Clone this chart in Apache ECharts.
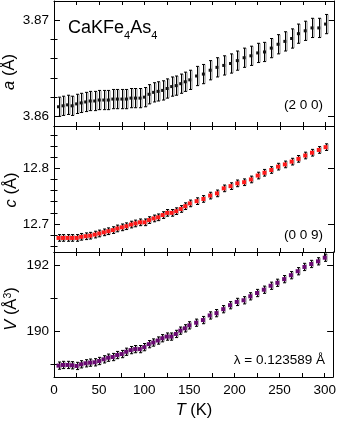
<!DOCTYPE html>
<html>
<head>
<meta charset="utf-8">
<script src="https://cdn.jsdelivr.net/npm/echarts@6/dist/echarts.min.js"></script>
<style>
  html, body { margin: 0; padding: 0; background: #fff; }
  #main { width: 339px; height: 421px; }
</style>
</head>
<body>
<div id="main"></div>
<script>
// temperature points (K): 5 K steps up to 150 K, then 7.5 K steps
const temps = [5, 10, 15, 20, 25, 30, 35, 40, 45, 50, 55, 60, 65, 70, 75, 80, 85, 90, 95, 100,
  105, 110, 115, 120, 125, 130, 135, 140, 145, 150, 157.5, 165, 172.5, 180, 187.5, 195, 202.5,
  210, 217.5, 225, 232.5, 240, 247.5, 255, 262.5, 270, 277.5, 285, 292.5, 300];

// lattice parameter a (Å), from (2 0 0)
const aValues = [3.8610, 3.8611, 3.8612, 3.8611, 3.8613, 3.8614, 3.8615, 3.8616, 3.8616, 3.8617,
  3.8617, 3.8617, 3.8618, 3.8618, 3.8618, 3.8618, 3.8619, 3.8619, 3.8619, 3.8620,
  3.8623, 3.8625, 3.8626, 3.8627, 3.8629, 3.8631, 3.8632, 3.8634, 3.8636, 3.8638,
  3.8642, 3.8644, 3.8648, 3.8651, 3.8653, 3.8655, 3.8658, 3.8661, 3.8663, 3.8666,
  3.8667, 3.8671, 3.8675, 3.8678, 3.8681, 3.8686, 3.8689, 3.8692, 3.8692, 3.8696];

// lattice parameter c (Å), from (0 0 9)
const cValues = [12.675, 12.675, 12.675, 12.675, 12.675, 12.677, 12.678, 12.679, 12.681, 12.683,
  12.685, 12.687, 12.689, 12.692, 12.694, 12.696, 12.699, 12.701, 12.703, 12.703,
  12.707, 12.710, 12.712, 12.716, 12.720, 12.720, 12.723, 12.727, 12.732, 12.737,
  12.741, 12.745, 12.751, 12.755, 12.764, 12.768, 12.773, 12.775, 12.780, 12.787,
  12.792, 12.797, 12.803, 12.807, 12.812, 12.817, 12.823, 12.828, 12.833, 12.838];

// cell volume V (Å^3)
const vValues = [188.96, 188.98, 188.98, 188.97, 188.95, 189.00, 189.03, 189.05, 189.06, 189.10,
  189.15, 189.20, 189.22, 189.28, 189.31, 189.38, 189.43, 189.46, 189.46, 189.52,
  189.61, 189.66, 189.72, 189.79, 189.84, 189.84, 189.92, 190.02, 190.09, 190.18,
  190.26, 190.34, 190.48, 190.55, 190.67, 190.79, 190.89, 190.94, 191.06, 191.16,
  191.26, 191.38, 191.47, 191.58, 191.70, 191.82, 191.95, 192.04, 192.12, 192.23];

// error bar half-widths
const aErr = 0.001;
const cErr = 0.006;
const vErr = 0.11;

// ticks
const tTicks = [0, 25, 50, 75, 100, 125, 150, 175, 200, 225, 250, 275, 300];
const tLabels = [0, 50, 100, 150, 200, 250, 300];
const aMajor = [3.86, 3.87];
const aMinor = [3.862, 3.864, 3.866, 3.868];
const cMajor = [12.7, 12.8];
const cMinor = [12.66, 12.68, 12.72, 12.74, 12.76, 12.78, 12.82, 12.84, 12.86];
const vMajor = [190, 192];
const vMinor = [189, 191];

const FONT = '"Liberation Sans", Arial, Helvetica, sans-serif';
const panels = [
  { top: 1, height: 125, min: 3.859, max: 3.872, major: aMajor, minor: aMinor, digits: 2,
    vals: aValues, err: aErr, color: '#111', size: 3 },
  { top: 126, height: 126, min: 12.6497, max: 12.876, major: cMajor, minor: cMinor, digits: 1,
    vals: cValues, err: cErr, color: '#ff1a1a', size: 4 },
  { top: 252, height: 125, min: 188.615, max: 192.403, major: vMajor, minor: vMinor, digits: 0,
    vals: vValues, err: vErr, color: '#6a0a72', size: 4 }
];

const lineStyle = { color: '#000', width: 1 };

function errorBar(params, api) {
  const x = api.value(0), y = api.value(1), e = api.value(2);
  const lo = api.coord([x, y - e]);
  const hi = api.coord([x, y + e]);
  const px = Math.round(lo[0]) + 0.5;
  return {
    type: 'group',
    children: [
      { type: 'line', shape: { x1: px + 1.5, y1: hi[1], x2: px + 1.5, y2: lo[1] },
        style: { stroke: '#b4b4b4', lineWidth: 1.6 } },
      { type: 'line', shape: { x1: px, y1: hi[1], x2: px, y2: lo[1] },
        style: { stroke: '#000', lineWidth: 1 } },
      { type: 'line', shape: { x1: px - 1.5, y1: hi[1], x2: px + 1.5, y2: hi[1] },
        style: { stroke: '#000', lineWidth: 1 } },
      { type: 'line', shape: { x1: px - 1.5, y1: lo[1], x2: px + 1.5, y2: lo[1] },
        style: { stroke: '#000', lineWidth: 1 } }
    ]
  };
}

const grid = [], xAxis = [], yAxis = [], series = [];
panels.forEach(function (p, i) {
  grid.push({ left: 54, right: 5, top: p.top, height: p.height });
  ['bottom', 'top'].forEach(function (pos) {
    xAxis.push({
      type: 'value', gridIndex: i, position: pos, min: 0, max: 309.3,
      axisLine: { show: true, onZero: false, lineStyle: lineStyle },
      axisTick: { show: true, inside: true, length: 4, customValues: tTicks, lineStyle: lineStyle },
      axisLabel: { show: pos === 'bottom' && i === 2, customValues: tLabels, margin: 6,
        color: '#000', fontSize: 13.5, fontFamily: FONT },
      splitLine: { show: false }
    });
  });
  ['left', 'right'].forEach(function (pos) {
    yAxis.push({
      type: 'value', gridIndex: i, position: pos, min: p.min, max: p.max,
      axisLine: { show: true, onZero: false, lineStyle: lineStyle },
      axisTick: { show: true, inside: true, length: 6, customValues: p.major, lineStyle: lineStyle },
      axisLabel: { show: pos === 'left', customValues: p.major, margin: 5,
        color: '#000', fontSize: 13.5, fontFamily: FONT,
        formatter: function (v) { return v.toFixed(p.digits); } },
      splitLine: { show: false }
    });
    yAxis.push({
      type: 'value', gridIndex: i, position: pos, min: p.min, max: p.max,
      axisLine: { show: false },
      axisTick: { show: true, inside: true, length: 3.5, customValues: p.minor, lineStyle: lineStyle },
      axisLabel: { show: false },
      splitLine: { show: false }
    });
  });
  const pts = temps.map(function (t, k) { return [t, p.vals[k], p.err]; });
  series.push({
    type: 'custom', xAxisIndex: 2 * i, yAxisIndex: 4 * i,
    renderItem: errorBar, data: pts, silent: true, z: 2
  });
  series.push({
    type: 'scatter', xAxisIndex: 2 * i, yAxisIndex: 4 * i,
    symbol: 'rect', symbolSize: p.size, data: pts.map(function (d) { return [d[0], d[1]]; }),
    itemStyle: { color: p.color, opacity: 1 }, silent: true, z: 3
  });
});

const textBase = { fontFamily: FONT, fill: '#000' };
const graphic = [
  { type: 'text', x: 68, y: 18, style: Object.assign({}, textBase, {
      text: 'CaKFe{s|4}As{s|4}', fontSize: 18, lineHeight: 20,
      rich: { s: { fontSize: 11, fontFamily: FONT, verticalAlign: 'bottom', lineHeight: 11, padding: [0, 0, -3, 0] } } }) },
  { type: 'text', x: 323, y: 105, style: Object.assign({}, textBase, {
      text: '(2 0 0)', fontSize: 13.5, align: 'right', verticalAlign: 'middle' }) },
  { type: 'text', x: 323, y: 235, style: Object.assign({}, textBase, {
      text: '(0 0 9)', fontSize: 13.5, align: 'right', verticalAlign: 'middle' }) },
  { type: 'text', x: 325, y: 360, style: Object.assign({}, textBase, {
      text: 'λ = 0.123589 Å', fontSize: 13.5, align: 'right', verticalAlign: 'middle' }) },
  { type: 'text', x: 9, y: 72, rotation: Math.PI / 2, style: Object.assign({}, textBase, {
      text: '{i|a} (Å)', fontSize: 16.5, align: 'center', verticalAlign: 'middle',
      rich: { i: { fontStyle: 'italic', fontSize: 16.5, fontFamily: FONT } } }) },
  { type: 'text', x: 11, y: 190, rotation: Math.PI / 2, style: Object.assign({}, textBase, {
      text: '{i|c} (Å)', fontSize: 16.5, align: 'center', verticalAlign: 'middle',
      rich: { i: { fontStyle: 'italic', fontSize: 16.5, fontFamily: FONT } } }) },
  { type: 'text', x: 11, y: 309, rotation: Math.PI / 2, style: Object.assign({}, textBase, {
      text: '{i|V} (Å{s|3})', fontSize: 16.5, align: 'center', verticalAlign: 'middle',
      rich: { i: { fontStyle: 'italic', fontSize: 16.5, fontFamily: FONT },
              s: { fontSize: 10.5, fontFamily: FONT, verticalAlign: 'top' } } }) },
  { type: 'text', x: 194, y: 410, style: Object.assign({}, textBase, {
      text: '{i|T} (K)', fontSize: 16.5, align: 'center', verticalAlign: 'middle',
      rich: { i: { fontStyle: 'italic', fontSize: 16.5, fontFamily: FONT } } }) }
];

const chart = echarts.init(document.getElementById('main'), null, { renderer: 'canvas' });
chart.setOption({
  animation: false,
  backgroundColor: '#fff',
  grid: grid,
  xAxis: xAxis,
  yAxis: yAxis,
  series: series,
  graphic: graphic
});
</script>
</body>
</html>
